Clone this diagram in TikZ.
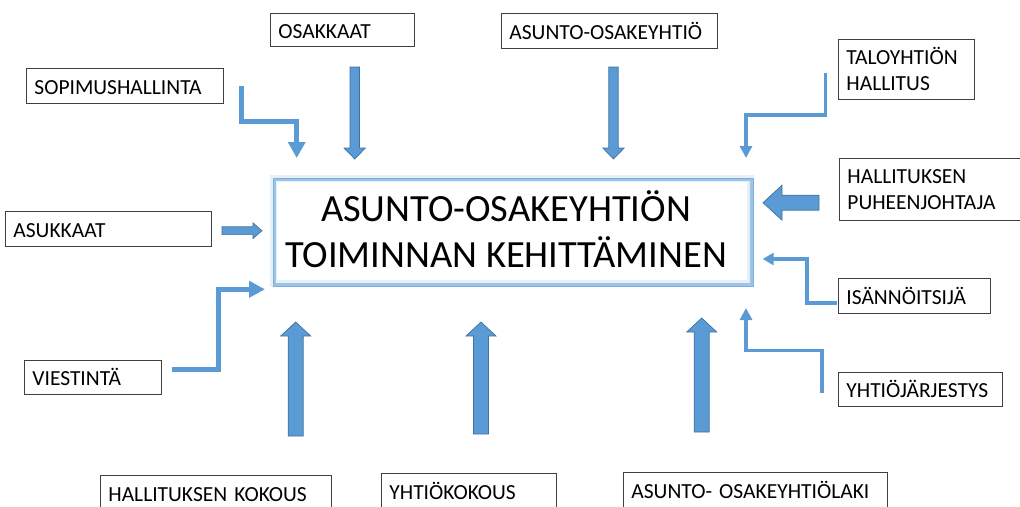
\documentclass[tikz,border=0pt]{standalone}
\usepackage{fontspec}
\setmainfont{Carlito}
\usetikzlibrary{calc,arrows.meta}
\definecolor{arrowblue}{HTML}{5B9BD5}
\definecolor{arrowedge}{HTML}{41719C}
\definecolor{glowblue}{HTML}{9DC3E6}
\definecolor{glowdeep}{HTML}{7FAEDD}
\definecolor{boxedge}{HTML}{404040}
\newcommand{\lbox}[7]{%
  \node[lbl, #7, minimum width=#4pt, minimum height=#5pt, text width=#4pt-16pt] (#1) at (#2,#3) {#6};}
\newcommand{\blockarrow}[5]{%
  \coordinate (hb) at ($(#2)!#5!(#1)$);
  \filldraw[barrow] ($(#1)!#3!90:(#2)$) -- ($(hb)!#3!90:(#2)$) -- ($(hb)!#4!90:(#2)$) -- (#2)
    -- ($(hb)!#4!-90:(#2)$) -- ($(hb)!#3!-90:(#2)$) -- ($(#1)!#3!-90:(#2)$) -- cycle;}
\begin{document}
\begin{tikzpicture}[x=1pt,y=-1pt,
  lbl/.style={draw=boxedge, line width=0.8pt, fill=white, anchor=north west, align=left,
    inner xsep=8pt, inner ysep=0pt, font=\fontsize{21.5}{26}\selectfont},
  oneline/.style={text height=17pt, text depth=0pt},
  twoline/.style={yshift=0pt},
  barrow/.style={fill=arrowblue, draw=arrowedge, line width=0.7pt, line join=miter},
  thinarrow/.style={draw=arrowblue, line join=miter, line cap=butt},
  mainbox/.style={draw=glowblue, line width=3pt, anchor=north west, inner sep=0pt},
  maintext/.style={font=\fontsize{38.5}{46.5}\selectfont, align=center, inner sep=0pt}]
\useasboundingbox (0,0) rectangle (1020,506);
\clip (0,0) rectangle (1020,506);

% central box
\draw[glowblue, line width=7pt, opacity=0.25] (273,178) rectangle (750,283);
\node[mainbox, minimum width=477pt, minimum height=105pt] (main) at (273,178) {};
\draw[glowdeep, line width=0.7pt] (main.north west) rectangle (main.south east);
\node[maintext] (maintxt) at (506,229) {ASUNTO-OSAKEYHTIÖN\\TOIMINNAN KEHITTÄMINEN};

% boxes
\lbox{osak}{270}{13}{144}{33}{OSAKKAAT}{oneline}
\lbox{aoy}{501}{13}{216}{35}{ASUNTO-OSAKEYHTIÖ}{oneline}
\lbox{sop}{26}{68}{197}{35}{SOPIMUSHALLINTA}{oneline}
\lbox{talo}{838}{39}{136}{60}{TALOYHTIÖN\\HALLITUS}{twoline}
\lbox{hpj}{839}{158}{200}{62}{HALLITUKSEN\\PUHEENJOHTAJA}{twoline}
\lbox{asuk}{5}{211}{206}{35}{ASUKKAAT}{oneline}
\lbox{isan}{838}{278}{152}{35}{ISÄNNÖITSIJÄ}{oneline}
\lbox{viest}{24}{360}{137}{34}{VIESTINTÄ}{oneline}
\lbox{yj}{838}{372}{164}{34}{YHTIÖJÄRJESTYS}{oneline}
\lbox{hk}{100}{475}{231}{36}{HALLITUKSEN KOKOUS}{oneline}
\lbox{yk}{381}{473}{175}{36}{YHTIÖKOKOUS}{oneline}
\lbox{aol}{623}{472}{264}{36}{ASUNTO- OSAKEYHTIÖLAKI}{oneline}

% block arrows
\coordinate (osakS) at (354.7,67);  \coordinate (osakE) at (354.7,159);
\coordinate (aoyS) at (613.5,67);   \coordinate (aoyE) at (613.5,159);
\coordinate (hkS) at (295.7,436);   \coordinate (hkE) at (295.7,322);
\coordinate (ykS) at (481,434);     \coordinate (ykE) at (481,322);
\coordinate (aolS) at (701.7,432);  \coordinate (aolE) at (701.7,318);
\coordinate (hpjS) at (819,202.7);  \coordinate (hpjE) at (763,202.7);
\coordinate (asukS) at (222,230.7); \coordinate (asukE) at (262,230.7);
\blockarrow{osakS}{osakE}{4.7pt}{10.7pt}{11pt}
\blockarrow{aoyS}{aoyE}{4.7pt}{10.7pt}{11pt}
\blockarrow{hkS}{hkE}{7.5pt}{15pt}{14pt}
\blockarrow{ykS}{ykE}{7.5pt}{15pt}{14pt}
\blockarrow{aolS}{aolE}{7.5pt}{15pt}{14pt}
\blockarrow{hpjS}{hpjE}{7.5pt}{17.5pt}{19pt}
\blockarrow{asukS}{asukE}{3.9pt}{7.8pt}{9pt}

% thin elbow arrows
\coordinate (sopS) at (241.7,86);   \coordinate (sopE) at (296.7,158);
\coordinate (taloS) at (825.7,73);  \coordinate (taloE) at (746,158);
\coordinate (isanS) at (837,303);   \coordinate (isanE) at (762.7,259);
\coordinate (yjS) at (822,393);     \coordinate (yjE) at (746,308);
\coordinate (viestS) at (171.7,369);\coordinate (viestE) at (265,289.3);
\draw[thinarrow, line width=4.5pt, -{Triangle[width=16.7pt,length=16pt]}]
  (sopS) -- (241.7,121.7) -| (sopE);
\draw[thinarrow, line width=3.3pt, -{Triangle[width=12pt,length=12pt]}]
  (taloS) -- (825.7,115) -| (taloE);
\draw[thinarrow, line width=3.3pt, -{Triangle[width=12pt,length=11pt]}]
  (isanS) -- (807,303) |- (isanE);
\draw[thinarrow, line width=3.3pt, -{Triangle[width=12pt,length=12pt]}]
  (yjS) -- (822,350.7) -| (yjE);
\draw[thinarrow, line width=5pt, -{Triangle[width=16pt,length=16pt]}]
  (viestS) -- (218,369) |- (viestE);
\end{tikzpicture}
\end{document}
